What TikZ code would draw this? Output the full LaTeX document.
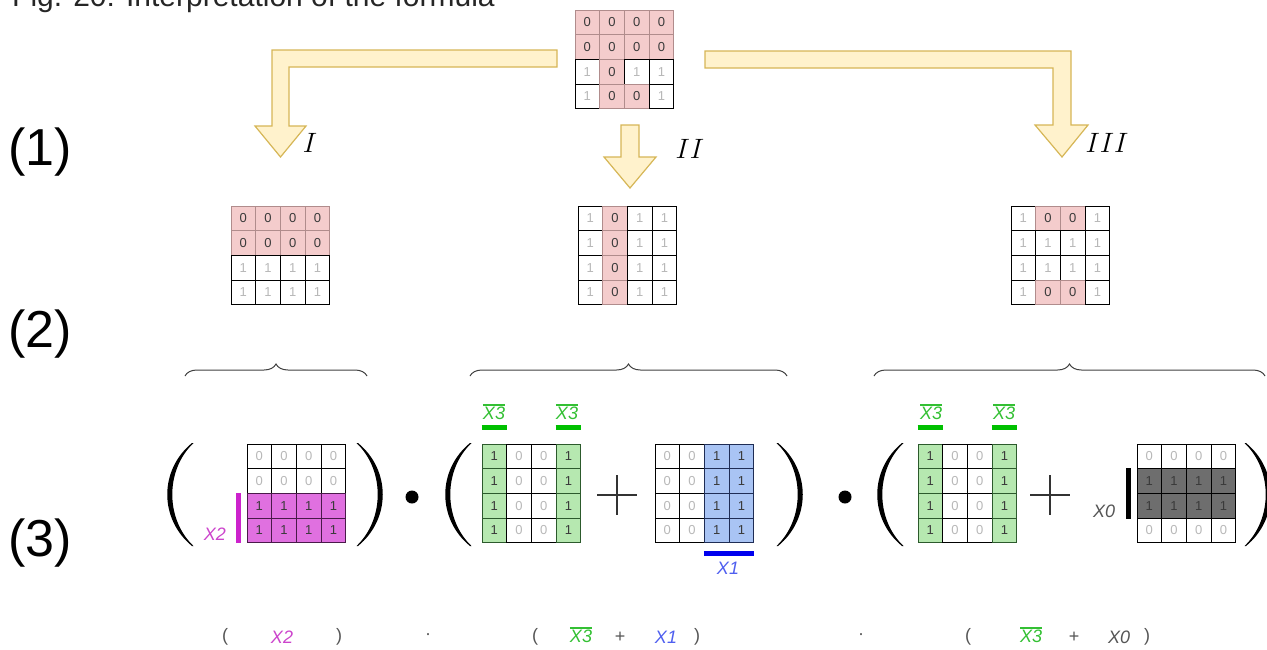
\documentclass[tikz,border=0pt]{standalone}
\usepackage{fix-cm}
\usepackage{fontspec}
\setmainfont{Liberation Sans}
\usetikzlibrary{decorations.pathreplacing}

\definecolor{pinkfill}{HTML}{F4CCCC}
\definecolor{pinkline}{HTML}{B08C8C}
\definecolor{hottext}{HTML}{3A3A3A}
\definecolor{coldtext}{HTML}{B8B8B8}
\definecolor{magfill}{HTML}{E070E0}
\definecolor{magline}{HTML}{4A1A4A}
\definecolor{greenfill}{HTML}{B6E8B0}
\definecolor{greenline}{HTML}{2C5A2C}
\definecolor{bluefill}{HTML}{A9C4F4}
\definecolor{blueline}{HTML}{1F2D55}
\definecolor{grayfill}{HTML}{6E6E6E}
\definecolor{magbar}{HTML}{CC22CC}
\definecolor{magtext}{HTML}{CC44CC}
\definecolor{greenbar}{HTML}{00C000}
\definecolor{greentext}{HTML}{33C033}
\definecolor{bluebar}{HTML}{0000EE}
\definecolor{bluetext}{HTML}{4F5FEF}
\definecolor{graytext}{HTML}{555555}
\definecolor{arrowfill}{HTML}{FFF2CC}
\definecolor{arrowline}{HTML}{D6B656}

\tikzset{
  cell/.style={minimum width=24.7pt, minimum height=24.7pt, inner sep=0pt,
    line width=1pt, font=\fontsize{13}{13}\selectfont},
  coldcell/.style={cell, fill=white, draw=black, text=coldtext},
  pinkcell/.style={cell, fill=pinkfill, draw=pinkline, text=hottext},
  magcell/.style={cell, fill=magfill, draw=magline, text=hottext},
  greencell/.style={cell, fill=greenfill, draw=greenline, text=hottext},
  bluecell/.style={cell, fill=bluefill, draw=blueline, text=hottext},
  graycell/.style={cell, fill=grayfill, draw=black, text=hottext},
  blockarrow/.style={fill=arrowfill, draw=arrowline, line width=1.2pt},
  rowlabel/.style={anchor=west, inner sep=0pt, font=\fontsize{52}{60}\selectfont},
  romanlabel/.style={inner sep=0pt, font=\fontsize{28}{30}\selectfont},
  bracket/.style={decorate, decoration={brace, amplitude=12pt}, draw=black!75, line width=1pt},
  varlabel/.style={inner sep=0pt, font=\fontsize{18}{20}\selectfont\itshape},
  fml/.style={inner sep=0pt, text=graytext, font=\fontsize{18}{20}\selectfont},
  fmlvar/.style={fml, font=\fontsize{18}{20}\selectfont\itshape},
  bar/.style={line width=4.5pt},
}

% 4x4 map: name, left, top, hot value, hot style, values
\newcommand{\kmap}[6]{%
  \foreach \v [count=\k from 0] in {#6} {
    \pgfmathtruncatemacro\kc{mod(\k,4)}
    \pgfmathtruncatemacro\kr{div(\k,4)}
    \ifnum\v=#4\relax
      \node[#5] (#1-\kr-\kc) at ({#2+(\kc+0.5)*24.7},{#3+(\kr+0.5)*24.7}) {\v};
    \else
      \node[coldcell] (#1-\kr-\kc) at ({#2+(\kc+0.5)*24.7},{#3+(\kr+0.5)*24.7}) {\v};
    \fi
  }
}

% big bracket: x of the bulge, +1 for ( and -1 for )
\newcommand{\bigparen}[2]{%
  \fill[black] ({#1+(#2)*25},443) .. controls ({#1-(#2)*8},470) and ({#1-(#2)*8},519) .. ({#1+(#2)*25},546)
    -- ({#1+(#2)*26.5},546) .. controls ({#1-(#2)*1.8},519) and ({#1-(#2)*1.8},470) .. ({#1+(#2)*26.5},443) -- cycle;
}

\newcommand{\negvar}[1]{\vbox{\hrule height 1.6pt\kern 1.6pt\hbox{#1}}}

\begin{document}
\begin{tikzpicture}[x=1pt, y=-1pt]
  \useasboundingbox (0,0) rectangle (1267,649);

  \node[anchor=base west, inner sep=0pt, font=\fontsize{30}{36}\selectfont, text=black!85] (title) at (12,6)
    {Fig. 20: Interpretation of the formula};

  \node[rowlabel] (row1) at (8,152) {(1)};
  \node[rowlabel] (row2) at (8,334) {(2)};
  \node[rowlabel] (row3) at (8,543) {(3)};

  % level 1
  \kmap{T}{575}{10}{0}{pinkcell}{0,0,0,0, 0,0,0,0, 1,0,1,1, 1,0,0,1}

  \draw[blockarrow] (557,50) -- (272,50) -- (272,126) -- (255,126) -- (280.5,157)
    -- (306,126) -- (289,126) -- (289,67) -- (557,67) -- cycle;
  \draw[blockarrow] (621,125) -- (639,125) -- (639,157) -- (656,157) -- (630,188)
    -- (604,157) -- (621,157) -- cycle;
  \draw[blockarrow] (705,51) -- (1071,51) -- (1071,125) -- (1088,125) -- (1062,157)
    -- (1035,125) -- (1053,125) -- (1053,68) -- (705,68) -- cycle;

  \node[romanlabel] (labI) at (310,143) {$I$};
  \node[romanlabel] (labII) at (690,149) {$II$};
  \node[romanlabel] (labIII) at (1107,143) {$III$};

  % level 2
  \kmap{I}{231}{206}{0}{pinkcell}{0,0,0,0, 0,0,0,0, 1,1,1,1, 1,1,1,1}
  \kmap{II}{578}{206}{0}{pinkcell}{1,0,1,1, 1,0,1,1, 1,0,1,1, 1,0,1,1}
  \kmap{III}{1011}{206}{0}{pinkcell}{1,0,0,1, 1,1,1,1, 1,1,1,1, 1,0,0,1}

  \draw[bracket] (185,376) -- (367,376);
  \draw[bracket] (470,376) -- (787,376);
  \draw[bracket] (874,376) -- (1265,376);

  % level 3
  \bigparen{167}{1}
  \bigparen{383}{-1}
  \bigparen{445}{1}
  \bigparen{803}{-1}
  \bigparen{877}{1}
  \bigparen{1271}{-1}
  \fill (412,497) circle (6.5);
  \fill (845,497) circle (6.5);
  \draw[line width=2.5pt, black!80] (597,495) -- (637,495) (617,475) -- (617,515);
  \draw[line width=2.5pt, black!80] (1030,495) -- (1070,495) (1050,475) -- (1050,515);

  \kmap{A}{247}{444}{1}{magcell}{0,0,0,0, 0,0,0,0, 1,1,1,1, 1,1,1,1}
  \kmap{B}{482}{444}{1}{greencell}{1,0,0,1, 1,0,0,1, 1,0,0,1, 1,0,0,1}
  \kmap{C}{655}{444}{1}{bluecell}{0,0,1,1, 0,0,1,1, 0,0,1,1, 0,0,1,1}
  \kmap{D}{918}{444}{1}{greencell}{1,0,0,1, 1,0,0,1, 1,0,0,1, 1,0,0,1}
  \kmap{E}{1137}{444}{1}{graycell}{0,0,0,0, 1,1,1,1, 1,1,1,1, 0,0,0,0}

  \draw[bar, magbar] ([xshift=-8pt]A-2-0.north west) -- ([xshift=-8pt]A-3-0.south west);
  \draw[bar, black, line width=5pt] ([xshift=-8pt]E-1-0.north west) -- ([xshift=-8pt]E-2-0.south west);
  \draw[bar, bluebar] ([yshift=-10pt]C-3-2.south west) -- ([yshift=-10pt]C-3-3.south east);
  \draw[bar, greenbar] ([yshift=16pt]B-0-0.north west) -- ([yshift=16pt]B-0-0.north east);
  \draw[bar, greenbar] ([yshift=16pt]B-0-3.north west) -- ([yshift=16pt]B-0-3.north east);
  \draw[bar, greenbar] ([yshift=16pt]D-0-0.north west) -- ([yshift=16pt]D-0-0.north east);
  \draw[bar, greenbar] ([yshift=16pt]D-0-3.north west) -- ([yshift=16pt]D-0-3.north east);

  \node[varlabel, text=magtext] (x2) at (215,534) {X2};
  \node[varlabel, text=greentext] (x3a) at (494,412) {\negvar{X3}};
  \node[varlabel, text=greentext] (x3b) at (567,412) {\negvar{X3}};
  \node[varlabel, text=greentext] (x3c) at (931,412) {\negvar{X3}};
  \node[varlabel, text=greentext] (x3d) at (1004,412) {\negvar{X3}};
  \node[varlabel, text=bluetext] (x1) at (728,568) {X1};
  \node[varlabel, text=graytext] (x0) at (1104,511) {X0};

  % formula
  \node[fml] (f1) at (225,637) {(};
  \node[fmlvar, text=magtext] (f2) at (282,637) {X2};
  \node[fml] (f3) at (339,637) {)};
  \node[fml] (f4) at (428,637) {·};
  \node[fml] (f5) at (535,637) {(};
  \node[fmlvar, text=greentext] (f6) at (581,635) {\negvar{X3}};
  \node[fml] (f7) at (620,637) {+};
  \node[fmlvar, text=bluetext] (f8) at (666,637) {X1};
  \node[fml] (f9) at (697,637) {)};
  \node[fml] (f10) at (861,637) {·};
  \node[fml] (f11) at (968,637) {(};
  \node[fmlvar, text=greentext] (f12) at (1031,635) {\negvar{X3}};
  \node[fml] (f13) at (1074,637) {+};
  \node[fmlvar, text=graytext] (f14) at (1119,637) {X0};
  \node[fml] (f15) at (1147,637) {)};
\end{tikzpicture}
\end{document}
